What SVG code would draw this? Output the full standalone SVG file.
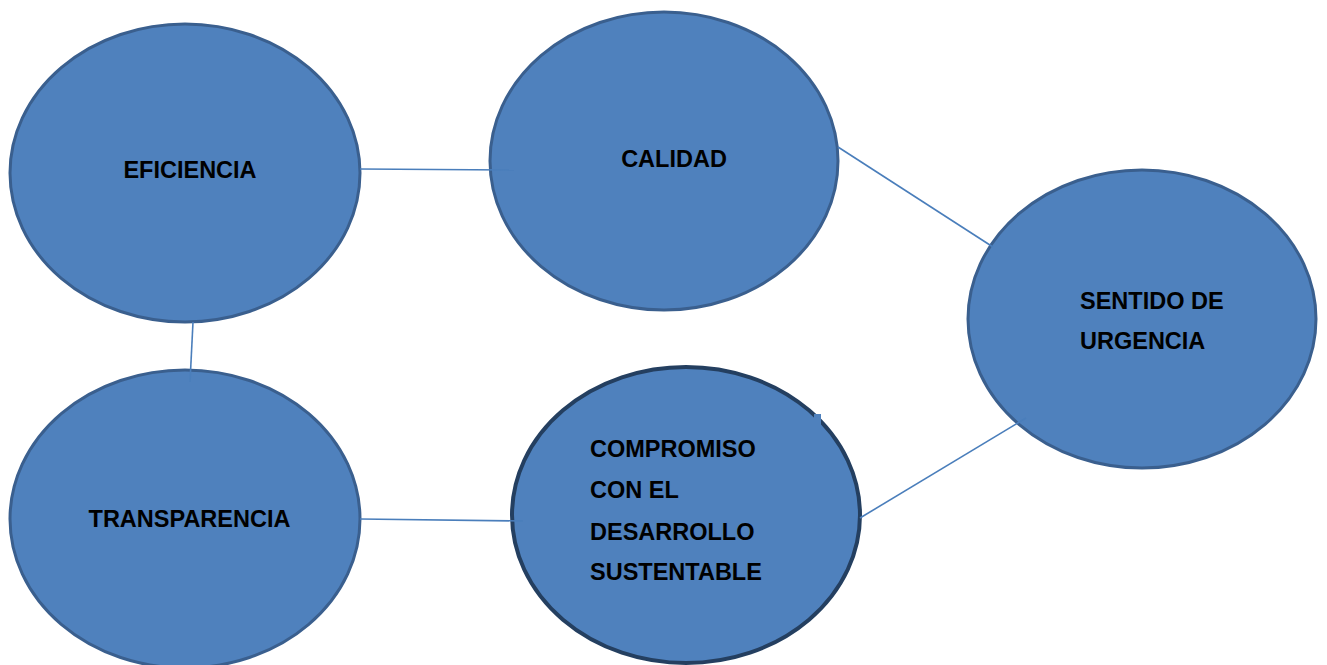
<svg xmlns="http://www.w3.org/2000/svg" width="1327" height="665" viewBox="0 0 1327 665">
<style>
.node{fill:#4F81BD;stroke:#3A5F8E;stroke-width:3}
.strong{fill:#4F81BD;stroke:#243F60;stroke-width:4}
.lbl{font-family:"Liberation Sans",Arial,sans-serif;font-weight:bold;font-size:23.5px;fill:#000}
.conn line{stroke:#4A7EBB;stroke-width:1.6}
</style>
<rect width="1327" height="665" fill="#fff"/>
<g id="eficiencia">
<ellipse class="node" cx="185" cy="173" rx="175" ry="149"/>
<text class="lbl" x="190" y="178" text-anchor="middle">EFICIENCIA</text>
</g>
<g id="calidad">
<ellipse class="node" cx="664" cy="161" rx="174" ry="149"/>
<text class="lbl" x="674" y="167" text-anchor="middle">CALIDAD</text>
</g>
<g id="sentido">
<ellipse class="node" cx="1142" cy="319" rx="174" ry="149"/>
<text class="lbl" x="1080" y="309">SENTIDO DE</text>
<text class="lbl" x="1080" y="349">URGENCIA</text>
</g>
<g id="transparencia">
<ellipse class="node" cx="185" cy="519" rx="175" ry="149"/>
<text class="lbl" x="189.5" y="527" text-anchor="middle">TRANSPARENCIA</text>
</g>
<g id="compromiso">
<ellipse class="strong" cx="686" cy="515" rx="174" ry="148"/>
<rect x="814" y="414" width="7" height="14" fill="#4F81BD"/>
<text class="lbl" x="590" y="457">COMPROMISO</text>
<text class="lbl" x="590" y="498">CON EL</text>
<text class="lbl" x="590" y="540">DESARROLLO</text>
<text class="lbl" x="590" y="580">SUSTENTABLE</text>
</g>
<g id="connectors" class="conn">
<line x1="360" y1="169" x2="514" y2="170"/>
<line x1="838" y1="147" x2="993" y2="247"/>
<line x1="1026" y1="418" x2="860" y2="518"/>
<line x1="360" y1="519" x2="523" y2="521"/>
<line x1="193" y1="322" x2="190" y2="382"/>
</g>
</svg>
